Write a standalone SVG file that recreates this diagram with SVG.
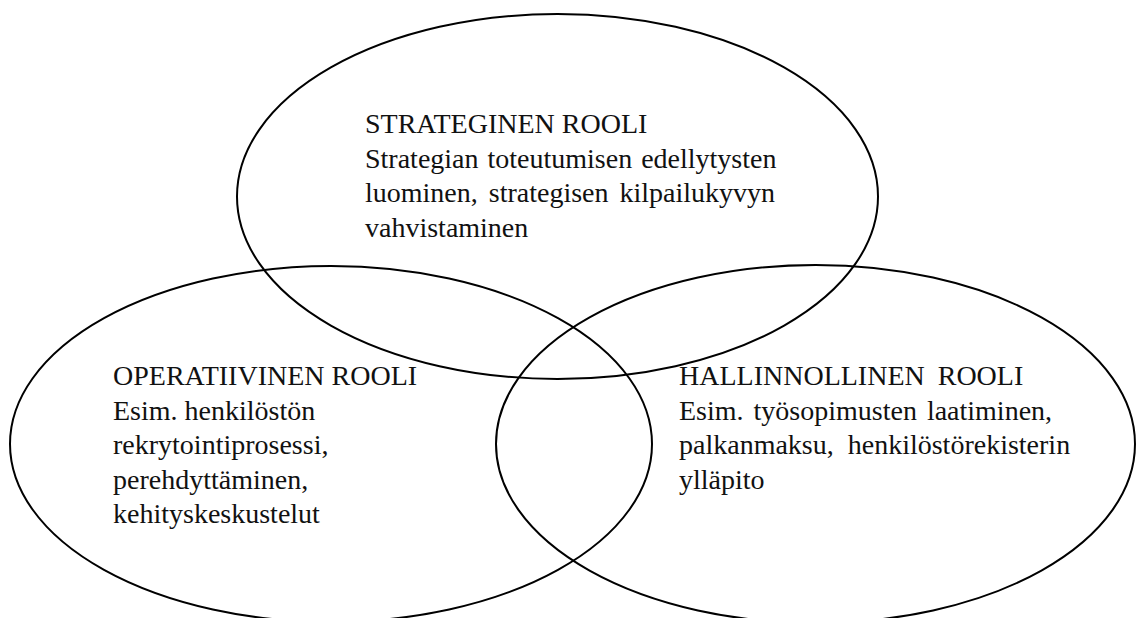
<svg xmlns="http://www.w3.org/2000/svg" width="1137" height="618" viewBox="0 0 1137 618">
<style>
.ring{fill:none;stroke:#000;stroke-width:2}
.t{font-family:"Liberation Serif","Times New Roman",serif;font-size:28px;fill:#111}
</style>
<rect width="1137" height="618" fill="#fff"/>
<g id="strateginen">
<ellipse class="ring" cx="557.5" cy="196.5" rx="320.5" ry="182.5"/>
<text class="t" x="365" y="133">STRATEGINEN ROOLI</text>
<text class="t" x="365" y="167.5" word-spacing="2">Strategian toteutumisen edellytysten</text>
<text class="t" x="365" y="202" word-spacing="4">luominen, strategisen kilpailukyvyn</text>
<text class="t" x="365" y="236.5">vahvistaminen</text>
</g>
<g id="operatiivinen">
<ellipse class="ring" cx="331" cy="444" rx="321" ry="178"/>
<text class="t" x="113" y="385">OPERATIIVINEN ROOLI</text>
<text class="t" x="113" y="419.5">Esim. henkilöstön</text>
<text class="t" x="113" y="454">rekrytointiprosessi,</text>
<text class="t" x="113" y="488.5">perehdyttäminen,</text>
<text class="t" x="113" y="523">kehityskeskustelut</text>
</g>
<g id="hallinnollinen">
<ellipse class="ring" cx="815.5" cy="444" rx="319.5" ry="179"/>
<text class="t" x="679" y="385" word-spacing="6">HALLINNOLLINEN ROOLI</text>
<text class="t" x="679" y="419.5" word-spacing="3">Esim. työsopimusten laatiminen,</text>
<text class="t" x="679" y="454" word-spacing="7">palkanmaksu, henkilöstörekisterin</text>
<text class="t" x="679" y="488.5">ylläpito</text>
</g>
</svg>
